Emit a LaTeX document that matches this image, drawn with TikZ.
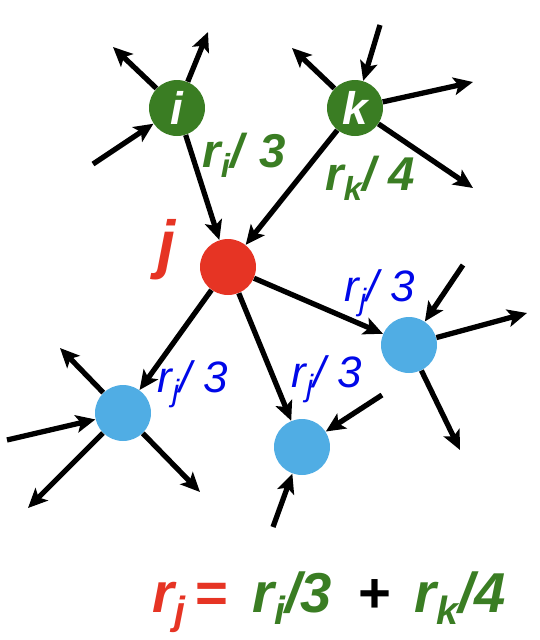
\documentclass[tikz,border=0pt]{standalone}
\usepackage{fontspec}
\setmainfont{Liberation Sans}
\usepackage{graphicx}
\usetikzlibrary{arrows.meta}

\definecolor{pgreen}{RGB}{58,125,35}
\definecolor{pred}{RGB}{230,52,36}
\definecolor{pblue}{RGB}{80,173,228}
\definecolor{tblue}{RGB}{0,8,232}

\newcommand{\lsub}[1]{\raisebox{-0.4ex}{\scalebox{0.7}{#1}}}

\begin{document}
\begin{tikzpicture}[
			x=0.02cm, y=-0.02cm,
			% Styles
			page/.style={circle, inner sep=0pt, minimum size=1.12cm, text=white,
				font=\fontsize{26}{26}\selectfont\bfseries\itshape},
			hub/.style={page, fill=pred},
			known/.style={page, fill=pgreen},
			other/.style={page, fill=pblue},
			link/.style={-{Stealth[length=11pt, width=10pt, inset=2.5pt]}, line width=3pt, black},
			share/.style={text=pgreen, font=\fontsize{27}{27}\selectfont\bfseries\itshape},
			part/.style={text=tblue, font=\fontsize{25}{25}\selectfont\itshape}
			]
			\useasboundingbox (0,0) rectangle (540,640);
			
			% --- 1. Pages ---
			\node[known] (PI) at (177,108) {i};
			\node[known] (PK) at (355,108) {k};
			\node[hub] (PJ) at (228,267) {};
			\node[other] (B1) at (123,413) {};
			\node[other] (B2) at (302,447) {};
			\node[other] (B3) at (409,345) {};
			
			% --- 2. Free ends of the other links ---
			\coordinate (Ia) at (113,47);
			\coordinate (Ib) at (208,32);
			\coordinate (Ic) at (93,164);
			\coordinate (Ka) at (380,25);
			\coordinate (Kb) at (292,48);
			\coordinate (Kc) at (473,82);
			\coordinate (Kd) at (473,188);
			\coordinate (B1a) at (60,348);
			\coordinate (B1b) at (7,440);
			\coordinate (B1c) at (28,508);
			\coordinate (B1d) at (200,492);
			\coordinate (B2a) at (382,395);
			\coordinate (B2b) at (273,527);
			\coordinate (B3a) at (463,265);
			\coordinate (B3b) at (527,313);
			\coordinate (B3c) at (460,450);
			
			% links of i and k
			\draw[link] (PI) -- (Ia);
			\draw[link] (PI) -- (Ib);
			\draw[link] (Ic) -- (PI);
			\draw[link] (Ka) -- (PK);
			\draw[link] (PK) -- (Kb);
			\draw[link] (PK) -- (Kc);
			\draw[link] (PK) -- (Kd);
			
			% links into j and out of j
			\draw[link] (PI) -- (PJ);
			\draw[link] (PK) -- (PJ);
			\draw[link] (PJ) -- (B1);
			\draw[link] (PJ) -- (B2);
			\draw[link] (PJ) -- (B3);
			
			% links of the blue pages
			\draw[link] (B1) -- (B1a);
			\draw[link] (B1b) -- (B1);
			\draw[link] (B1) -- (B1c);
			\draw[link] (B1) -- (B1d);
			\draw[link] (B2a) -- (B2);
			\draw[link] (B2b) -- (B2);
			\draw[link] (B3a) -- (B3);
			\draw[link] (B3) -- (B3b);
			\draw[link] (B3) -- (B3c);
			
			% --- 3. Labels ---
			\node[share] (Li) at (244,155) {r\lsub{i}/\,\,3};
			\node[share] (Lk) at (370,178) {r\lsub{k}/ 4};
			\node[text=pred, font=\fontsize{37}{37}\selectfont\bfseries\itshape] (Lj) at (167,250) {j};
			\node[part] (L3) at (380,293) {r\lsub{j}/ 3};
			\node[part] (L1) at (193,384) {r\lsub{j}/ 3};
			\node[part] (L2) at (327,379) {r\lsub{j}/ 3};
			
			% equation
			\node[font=\fontsize{32}{32}\selectfont\bfseries\itshape] (Eq) at (329,602)
				{\textcolor{pred}{r\lsub{j}\,=}\, \textcolor{pgreen}{r\lsub{i}/3}\, +\, \textcolor{pgreen}{r\lsub{k}/4}};
			
		\end{tikzpicture}
\end{document}
